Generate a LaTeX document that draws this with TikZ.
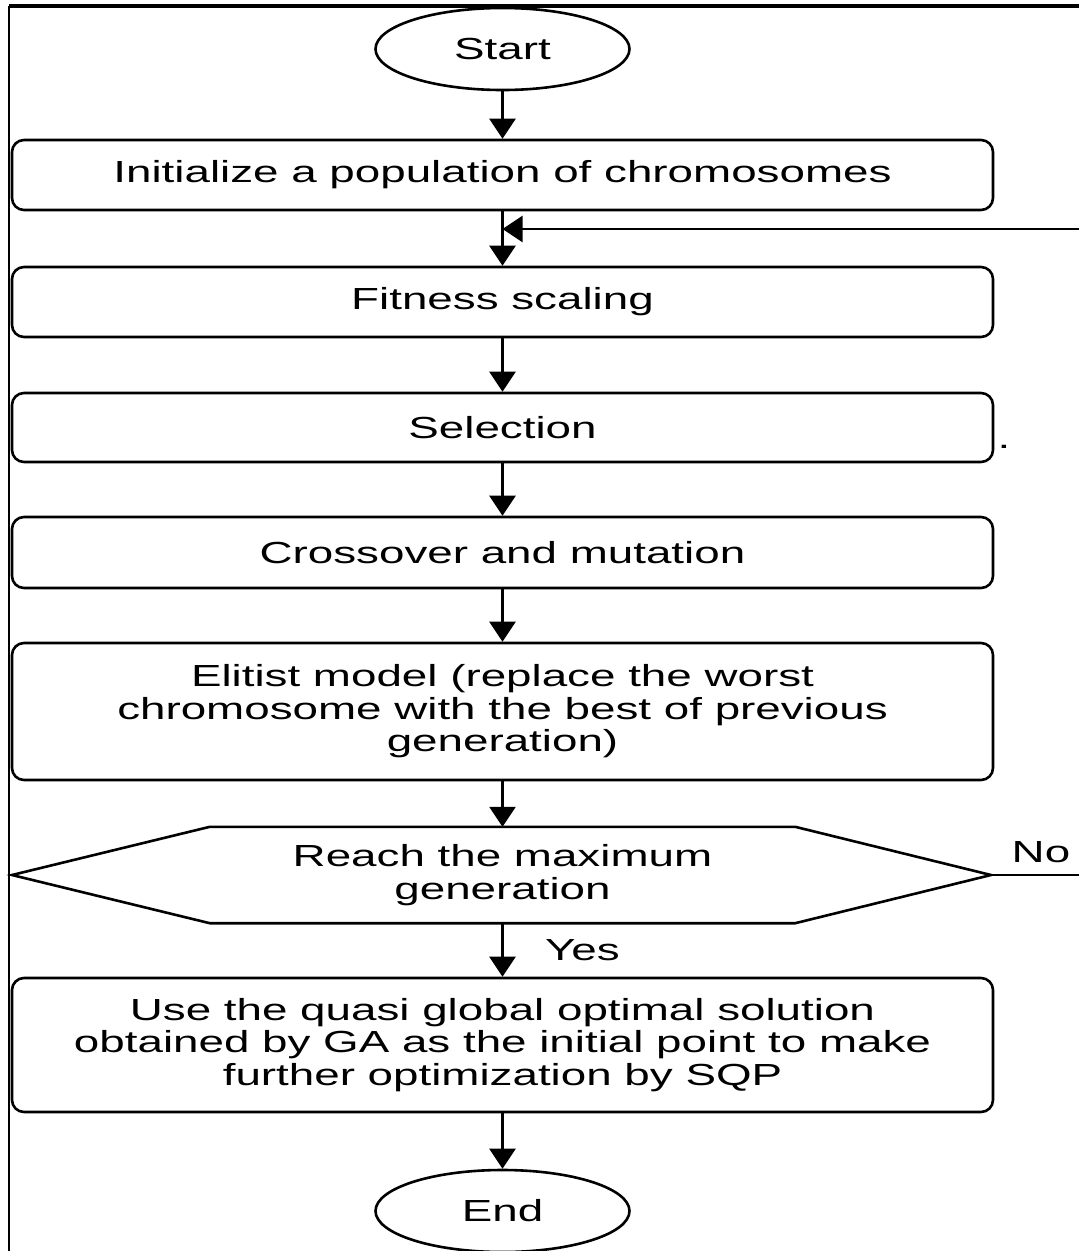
\documentclass[tikz,border=0pt]{standalone}
\usepackage{fontspec}
\setmainfont{Liberation Sans}[FakeStretch=1.5]
\usetikzlibrary{arrows.meta,shapes.geometric}

\begin{document}
\begin{tikzpicture}[x=1pt,y=-1pt,
  every node/.style={font=\fontsize{30.5}{32.5}\selectfont},
  box/.style={draw,line width=2.6pt,rounded corners=12pt,minimum width=981pt,inner sep=0pt,align=center},
  term/.style={draw,ellipse,line width=2.6pt,minimum width=254pt,minimum height=82pt,inner sep=0pt},
  arr/.style={line width=2.4pt,-{Triangle[length=20pt,width=26pt]}}]
% page and frame
\useasboundingbox (0,0) rectangle (1079,1251);
\draw[line width=4pt] (9,6) -- (1079,6);
\draw[line width=2pt] (9,6) -- (9,1251);

% Start
\node[term] (start) at (502.5,49) {Start};

% GA steps
\node[box,minimum height=70pt] (init) at (502.5,175) {Initialize a population of chromosomes};
\node[box,minimum height=70pt] (fit) at (502.5,302) {Fitness scaling};
\node[box,minimum height=69pt] (sel) at (502.5,427.5) {Selection};
\node[inner sep=0pt] (dot) at (1004,447) {.};
\node[box,minimum height=71pt] (cross) at (502.5,552.5) {Crossover and mutation};
\node[box,minimum height=137pt] (elit) at (502.5,711.5) {Elitist model (replace the worst\\chromosome with the best of previous\\generation)};

% Decision (hexagon)
\node[minimum width=585pt,minimum height=96pt,inner sep=0pt,align=center] (dec) at (502.5,875) {Reach the maximum\\generation};
\coordinate (decL) at (12,875);
\coordinate (decR) at (991,875);
\draw[line width=2.6pt,line join=miter] (decL) -- (dec.north west) -- (dec.north east) -- (decR) -- (dec.south east) -- (dec.south west) -- cycle;

% SQP and End
\node[box,minimum height=134pt] (sqp) at (502.5,1045) {Use the quasi global optimal solution\\obtained by GA as the initial point to make\\further optimization by SQP};
\node[term] (end) at (502.5,1211) {End};

% Arrows
\draw[arr] (start) -- (init);
\draw[arr] (init) -- (fit);
\draw[arr] (fit) -- (sel);
\draw[arr] (sel) -- (cross);
\draw[arr] (cross) -- (elit);
\draw[arr] (elit) -- (dec);
\draw[arr] (dec) -- node[right=38pt] (yes) {Yes} (sqp);
\draw[arr] (sqp) -- (end);

% Loop back (No)
\coordinate (join) at (502.5,229);
\draw[arr,line width=2.2pt] (decR) -- node[above=8pt,pos=0.42] (no) {No} (1110,875) |- (join);
\end{tikzpicture}
\end{document}
